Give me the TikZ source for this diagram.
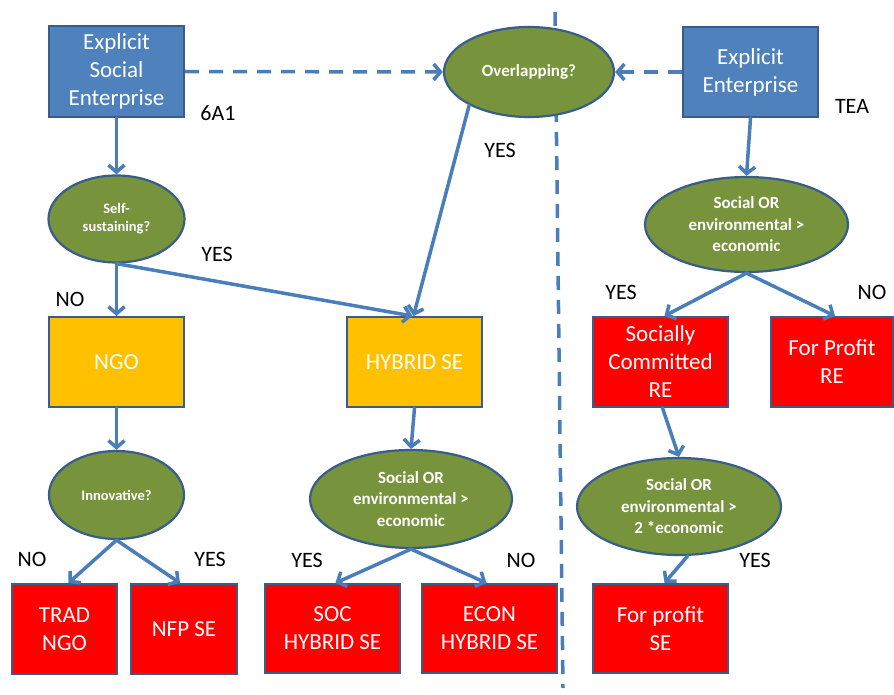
\documentclass[tikz,border=0pt]{standalone}
\usepackage{fontspec}
\setmainfont{Carlito}
\usetikzlibrary{shapes.geometric,arrows.meta}
\definecolor{bxblue}{HTML}{4F81BD}
\definecolor{bdr}{HTML}{385D8A}
\definecolor{olive}{HTML}{77933C}
\definecolor{amber}{HTML}{FFC000}
\definecolor{arrowc}{HTML}{4A7EBB}
\begin{document}
\begin{tikzpicture}[x=1pt,y=-1pt,
  box/.style={rectangle,draw=bdr,line width=2pt,text=white,align=center,inner sep=0pt,
    minimum width=135pt,minimum height=90pt,font=\fontsize{23}{28}\selectfont},
  bluebox/.style={box,fill=bxblue},
  ambbox/.style={box,fill=amber},
  redbox/.style={box,fill=red},
  qn/.style={ellipse,draw=bdr,line width=2.2pt,fill=olive,text=white,align=center,inner sep=0pt,
    font=\bfseries\fontsize{17}{21.5}\selectfont},
  smallqn/.style={qn,font=\bfseries\fontsize{14.5}{18}\selectfont},
  lbl/.style={text=black,inner sep=0pt,font=\fontsize{22}{26}\selectfont},
  conn/.style={draw=arrowc,line width=3.5pt,line cap=round,-{Straight Barb[length=7pt,width=16pt]}},
  dconn/.style={draw=arrowc,line width=3.5pt,dash pattern=on 14pt off 10pt,-{Straight Barb[length=7pt,width=16pt]}},
  divline/.style={draw=arrowc,line width=3.5pt,dash pattern=on 14pt off 10pt},
]
\useasboundingbox (0,0) rectangle (894,695);
\fill[white] (0,0) rectangle (894,695);

% divider
\coordinate (dtop) at (555,12);
\coordinate (dbot) at (563,688);
\draw[divline] (dtop) -- (dbot);

% nodes
\node[bluebox,minimum height=91pt] (ese) at (116.5,71.5) {Explicit\\Social\\Enterprise};
\node[qn,minimum width=170pt,minimum height=90pt] (ovl) at (529,72) {Overlapping?};
\node[bluebox] (ee) at (750.5,72) {Explicit\\Enterprise};

\node[smallqn,minimum width=136pt,minimum height=87pt] (sse) at (116.5,219) {Self-\\sustaining?};
\node[qn,minimum width=203pt,minimum height=95pt] (so3) at (746.5,224.5) {Social OR\\environmental >\\economic};

\node[ambbox] (ngo) at (116.5,362) {NGO};
\node[ambbox] (hyb) at (414.5,362) {HYBRID SE};
\node[redbox] (scre) at (660.5,362) {Socially\\Committed\\RE};
\node[redbox,minimum width=122pt] (fpre) at (832,362) {For Profit\\RE};

\node[smallqn,minimum width=135pt,minimum height=88pt] (inn) at (116.5,495) {Innovative?};
\node[qn,minimum width=202pt,minimum height=98pt] (so2) at (411,499) {Social OR\\environmental >\\economic};
\node[qn,minimum width=204pt,minimum height=97pt] (so4) at (679,506.5) {Social OR\\environmental >\\2 *economic};

\node[redbox,minimum width=105pt] (trad) at (64.5,629) {TRAD\\NGO};
\node[redbox,minimum width=106pt] (nfp) at (184,629) {NFP SE};
\node[redbox,minimum height=89pt] (soc) at (332.5,628.5) {SOC\\HYBRID SE};
\node[redbox,minimum height=89pt] (econ) at (489.5,628.5) {ECON\\HYBRID SE};
\node[redbox,minimum height=89pt] (fpse) at (660.5,628.5) {For profit\\SE};

% labels
\node[lbl] (l6a1) at (218,113) {6A1};
\node[lbl] (ltea) at (852,106) {TEA};
\node[lbl] (lyovl) at (500,150) {YES};
\node[lbl] (lysse) at (217,254) {YES};
\node[lbl] (lnngo) at (70,299) {NO};
\node[lbl] (lntrad) at (32,559) {NO};
\node[lbl] (lynfp) at (210,559) {YES};
\node[lbl] (lysoc) at (307,560) {YES};
\node[lbl] (lnecon) at (521,560) {NO};
\node[lbl] (lyscre) at (621,292) {YES};
\node[lbl] (lnfpre) at (872,292) {NO};
\node[lbl] (lyfpse) at (755,560) {YES};

% connectors
\draw[dconn] (ese.east) -- (ovl.west);
\draw[dconn] (ee.west) -- (ovl.east);
\draw[conn] (ese.south) -- (sse.north);
\draw[conn] (sse.south) -- (ngo.north);
\draw[conn] (sse.south) -- ([xshift=-2pt]hyb.north);
\draw[conn] (ovl.209) -- ([xshift=-1pt]hyb.north);
\draw[conn] (ee.south) -- (so3.north);
\draw[conn] (so3.south) -- ([xshift=4pt]scre.north);
\draw[conn] (so3.south) -- ([xshift=3pt]fpre.north);
\draw[conn] (ngo.south) -- (inn.north);
\draw[conn] (inn.south) -- ([xshift=4pt]trad.north);
\draw[conn] (inn.south) -- ([xshift=-4pt]nfp.north);
\draw[conn] (hyb.south) -- (so2.north);
\draw[conn] (so2.south) -- ([xshift=3pt]soc.north);
\draw[conn] (so2.south) -- ([xshift=-3pt]econ.north);
\draw[conn] ([xshift=2pt]scre.south) -- (so4.north);
\draw[conn] (so4.-80) -- ([xshift=4pt]fpse.north);
\end{tikzpicture}
\end{document}
